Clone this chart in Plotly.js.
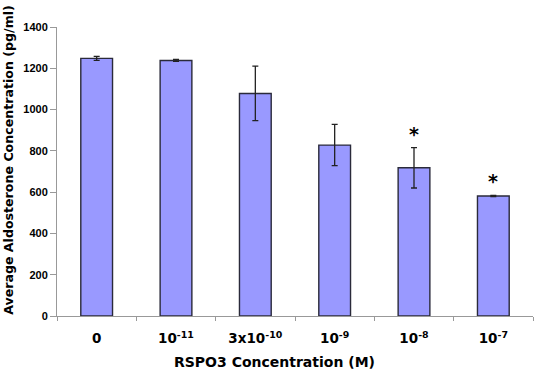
<!DOCTYPE html>
<html><head><meta charset="utf-8">
<script src="https://cdn.plot.ly/plotly-3.0.1.min.js"></script>
<style>html,body{margin:0;padding:0;background:#fff}#chart{width:540px;height:372px}</style>
</head><body><div id="chart"></div>
<script>
const categories = ["c0", "c1e-11", "c3e-10", "c1e-9", "c1e-8", "c1e-7"];
const tickLabels = ["<b>0</b>", "<b>10<sup>-11</sup></b>", "<b>3x10<sup>-10</sup></b>", "<b>10<sup>-9</sup></b>", "<b>10<sup>-8</sup></b>", "<b>10<sup>-7</sup></b>"];
const aldosterone = [1248, 1238, 1078, 828, 718, 581];
const errors = [10, 5, 132, 100, 98, 3];
const significant = [false, false, false, false, true, true];
const yTicks = [0, 200, 400, 600, 800, 1000, 1200, 1400];
const xTitle = 'RSPO3 Concentration (M)';
const yTitle = 'Average Aldosterone Concentration (pg/ml)';

const FONT = 'DejaVu Sans, Verdana, sans-serif';

const annotations = categories.map((c, i) => significant[i] ? {
  x: i, y: aldosterone[i] + errors[i], xref: 'x', yref: 'y',
  text: '<b>*</b>', showarrow: false, yanchor: 'bottom', yshift: 1,
  font: {family: FONT, size: 19, color: '#000'}
} : null).filter(a => a);

annotations.push({
  xref: 'paper', yref: 'paper', x: 0.456, y: -0.159, xanchor: 'center', yanchor: 'middle',
  text: '<b>' + xTitle + '</b>', showarrow: false, font: {family: FONT, size: 14, color: '#000'}
});
annotations.push({
  xref: 'paper', yref: 'paper', x: -0.101, y: 0.54, xanchor: 'center', yanchor: 'middle',
  textangle: -90, text: '<b>' + yTitle + '</b>', showarrow: false,
  font: {family: FONT, size: 12.6, color: '#000'}
});

const trace = {
  type: 'bar', x: categories, y: aldosterone,
  marker: {color: '#9999ff', line: {color: '#2a2a3a', width: 1.4}},
  error_y: {type: 'data', array: errors, visible: true, color: '#222', thickness: 1.3, width: 3},
  width: 0.4
};

const layout = {
  width: 540, height: 372,
  margin: {l: 57, r: 7, t: 27, b: 56},
  paper_bgcolor: '#fff', plot_bgcolor: '#fff',
  showlegend: false,
  font: {family: FONT, color: '#000'},
  xaxis: {
    type: 'category', tickmode: 'array', tickvals: categories, ticktext: tickLabels,
    tickson: 'boundaries', ticks: 'outside', ticklen: 4, tickcolor: '#999',
    ticklabelstandoff: 10,
    showline: true, linecolor: '#999', linewidth: 1, showgrid: false,
    tickfont: {size: 13.5}
  },
  yaxis: {
    range: [0, 1400], tickmode: 'array', tickvals: yTicks,
    ticktext: yTicks.map(v => '<b>' + v + '</b>'),
    ticks: 'outside', ticklen: 6, tickcolor: '#999',
    showline: true, linecolor: '#999', linewidth: 1, showgrid: false, zeroline: false,
    tickfont: {family: 'Liberation Sans, Arial', size: 11}
  },
  annotations: annotations
};
Plotly.newPlot('chart', [trace], layout, {displayModeBar: false, staticPlot: true});
</script></body></html>
